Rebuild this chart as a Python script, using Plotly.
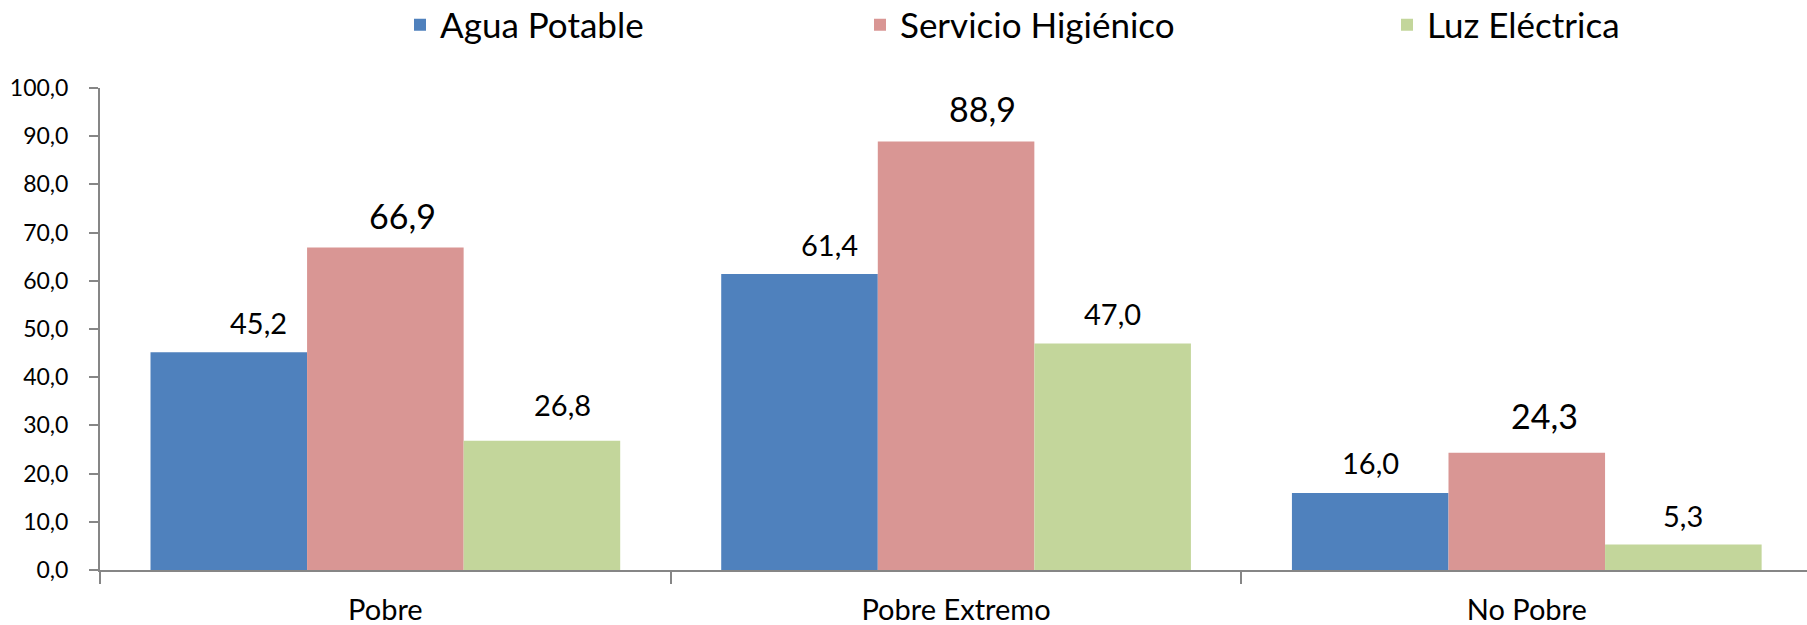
import plotly.graph_objects as go

categories = ["Pobre", "Pobre Extremo", "No Pobre"]
series_names = ["Agua Potable", "Servicio Higiénico", "Luz Eléctrica"]
agua = [45.2, 61.4, 16.0]
servicio = [66.9, 88.9, 24.3]
luz = [26.8, 47.0, 5.3]
y_ticks = [0, 10, 20, 30, 40, 50, 60, 70, 80, 90, 100]

# style
colors = ["#4F81BD", "#D99694", "#C3D69B"]
FONT = "Lato"
AXIS = "#868686"
BARGAP = 0.177
W, H = 1807, 625
label_sizes = [29, 34, 29]
# pixel offsets of each data label (per series, per category)
label_dx = [[30, 30, 0], [17, 26, 18], [21, 0, 0]]
label_dy = [[30, 30, 30], [32, 33, 37], [36, 30, 29]]
legend_x_px = [400, 860, 1387]

fig = go.Figure()
all_vals = [agua, servicio, luz]
for k, (name, vals) in enumerate(zip(series_names, all_vals)):
    fig.add_trace(go.Bar(
        x=categories, y=vals, name=name,
        marker=dict(color=colors[k], line=dict(width=0)),
        legend="legend" if k == 0 else f"legend{k+1}",
        hoverinfo="skip",
    ))

bar_w = (1 - BARGAP) / 3
for k, vals in enumerate(all_vals):
    for i, v in enumerate(vals):
        fig.add_annotation(
            x=i + (k - 1) * bar_w, y=v, xref="x", yref="y",
            text=f"{v:.1f}".replace(".", ","),
            showarrow=False, xanchor="center", yanchor="middle",
            xshift=label_dx[k][i], yshift=label_dy[k][i],
            font=dict(family=FONT, size=label_sizes[k], color="black"),
        )

legend_common = dict(
    orientation="h", xref="container", yref="container",
    xanchor="left", yanchor="middle", y=1 - 25 / H,
    bgcolor="rgba(0,0,0,0)", borderwidth=0,
    font=dict(family=FONT, size=35, color="black"),
)
layout_legends = {}
for k in range(3):
    key = "legend" if k == 0 else f"legend{k+1}"
    layout_legends[key] = dict(legend_common, x=legend_x_px[k] / W)

fig.update_layout(
    width=W, height=H,
    margin=dict(l=100, r=0, t=88, b=55),
    paper_bgcolor="white", plot_bgcolor="white",
    barmode="group", bargap=BARGAP, bargroupgap=0,
    separators=",.",
    font=dict(family=FONT, color="black"),
    showlegend=True,
    **layout_legends,
)
fig.update_xaxes(
    type="category", range=[-0.5, 2.491], automargin=False,
    showline=True, linecolor=AXIS, linewidth=2,
    ticks="outside", tickson="boundaries", ticklen=12, tickwidth=1.5, tickcolor=AXIS,
    tickfont=dict(family=FONT, size=29, color="black"),
    ticklabelstandoff=13,
    showgrid=False, zeroline=False,
)
fig.update_yaxes(
    range=[0, 100], tickvals=y_ticks, tickformat=".1f", automargin=False,
    showline=True, linecolor=AXIS, linewidth=2,
    ticks="outside", ticklen=9, tickwidth=1.5, tickcolor=AXIS,
    tickfont=dict(family=FONT, size=23, color="black"),
    ticklabelstandoff=16,
    showgrid=False, zeroline=False,
)

fig.write_html(
    "out.html",
    config={"displayModeBar": False},
    post_script="document.body.style.margin='0';document.body.style.overflow='hidden';",
)
